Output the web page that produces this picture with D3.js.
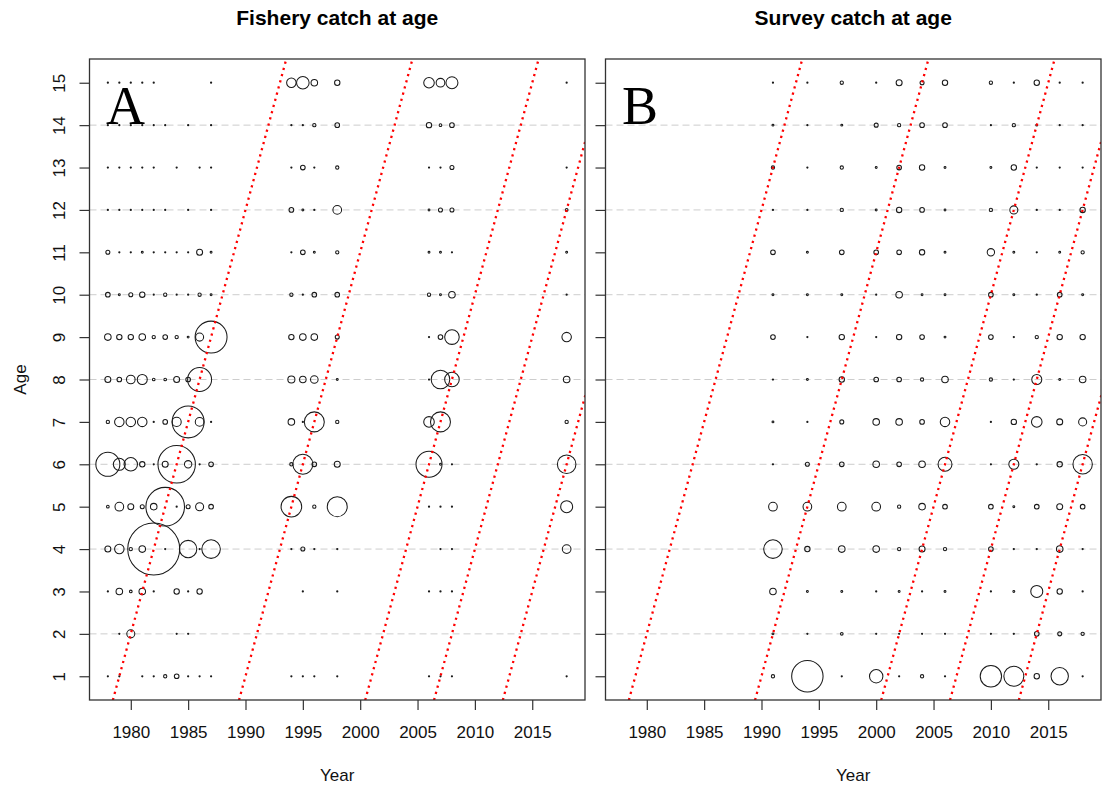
<!DOCTYPE html>
<html>
<head>
<meta charset="utf-8">
<script src="https://cdn.jsdelivr.net/npm/d3@7"></script>
<style>
  body { margin: 0; background: #fff; }
  svg { display: block; font-family: "Liberation Sans", Arial, sans-serif; }
</style>
</head>
<body>
<svg id="chart" width="1105" height="788"></svg>
<script>
// ---- data -------------------------------------------------------------
const ages = d3.range(1, 16);                       // ages 1..15
const yearTicks = [1980, 1985, 1990, 1995, 2000, 2005, 2010, 2015];
const gridAges = [2, 4, 6, 8, 10, 12, 14];
// year at which each highlighted year class sits at age 0
const cohortStarts = [1978, 1989, 2000, 2006, 2012];

// Fishery catch-at-age (% of annual catch), one row per year, ages 1..15
const fisheryYears = [1978, 1979, 1980, 1981, 1982, 1983, 1984, 1985, 1986, 1987,
                      1994, 1995, 1996, 1998, 2006, 2007, 2008, 2018];
const fisheryCatch = [
  [0.04, 0, 0.04, 1.0, 0.2, 16, 0.3, 1.0, 1.2, 0.6, 0.45, 0.04, 0.04, 0.04, 0.04],
  [0.04, 0.04, 1.2, 2.5, 2.1, 4.0, 2.5, 0.6, 0.8, 0.1, 0.04, 0.04, 0.04, 0.04, 0.04],
  [0, 1.8, 0.2, 0.3, 1.0, 5.0, 2.5, 2.1, 0.8, 0.45, 0.04, 0.04, 0.04, 0.04, 0.04],
  [0.04, 0, 1.2, 1.2, 0.45, 0.8, 2.5, 2.8, 1.2, 0.8, 0.1, 0.04, 0.04, 0.04, 0.04],
  [0.04, 0, 0.04, 75, 1.2, 0.04, 0.04, 0.2, 0.3, 0.04, 0.04, 0.04, 0.04, 0.04, 0.04],
  [0.3, 0, 0, 0.04, 41.4, 1.0, 0.6, 0.2, 0.6, 0.3, 0.04, 0.04, 0, 0.04, 0],
  [0.6, 0.04, 0.8, 0, 0.04, 38.9, 2.3, 1.0, 0.3, 0.04, 0.04, 0, 0.04, 0, 0],
  [0.04, 0.04, 0.04, 8.4, 0.45, 1.5, 28.4, 0.6, 0.1, 0.04, 0.04, 0.04, 0, 0.04, 0],
  [0.04, 0, 0.8, 0.04, 1.8, 0.04, 2.1, 16, 1.8, 0.3, 1.0, 0, 0.04, 0, 0],
  [0.04, 0, 0, 9.6, 0.6, 0.6, 0.04, 0, 28.4, 0.1, 0.1, 0.04, 0.04, 0.04, 0.04],
  [0.04, 0, 0, 0.04, 11.8, 0.3, 1.2, 1.4, 0.8, 0.3, 0.04, 0.6, 0.04, 0.04, 2.5],
  [0.04, 0, 0.04, 0.45, 0, 11.1, 0.04, 1.2, 1.2, 0.04, 0.6, 0.1, 0.6, 0.04, 4.4],
  [0.04, 0, 0, 0.04, 0.3, 0.6, 11.1, 1.6, 1.2, 0.6, 0.1, 0.04, 0.04, 0.3, 1.2],
  [0.04, 0, 0.04, 0.04, 11.1, 1.0, 0.3, 0.1, 0.45, 0.6, 0.3, 2.1, 0.3, 0.6, 0.8],
  [0.04, 0, 0.04, 0, 0.04, 18.8, 3.1, 0.04, 0.04, 0.3, 0.1, 0.1, 0.04, 0.8, 3.1],
  [0.04, 0, 0.04, 0.04, 0.04, 0.1, 11.1, 9.6, 0.6, 0.1, 0.1, 0.45, 0.04, 0.2, 2.1],
  [0.04, 0, 0.04, 0.04, 0.04, 0.04, 0, 5.9, 5.9, 1.2, 0.04, 0.45, 0.45, 0.6, 4.0],
  [0.04, 0, 0, 2.1, 4.0, 9.6, 0.3, 1.2, 2.5, 0.04, 0.1, 0.2, 0.04, 0, 0.04]
];

// Survey catch-at-age (% of annual survey catch), one row per year, ages 1..15
const surveyYears = [1991, 1994, 1997, 2000, 2002, 2004, 2006, 2010, 2012, 2014, 2016, 2018];
const surveyCatch = [
  [0.3, 0.1, 1.2, 9.6, 2.1, 0.04, 0.1, 0.04, 0.6, 0.1, 0.6, 0.04, 0.3, 0.1, 0.04],
  [27.4, 0.04, 0.1, 0.8, 2.1, 0.45, 0.04, 0.1, 0.04, 0.1, 0.1, 0.04, 0.04, 0.04, 0.04],
  [0.04, 0.2, 0.1, 1.2, 2.1, 0.6, 0.45, 0.8, 0.8, 0.1, 0.6, 0.3, 0.3, 0.1, 0.3],
  [5.0, 0.04, 0.04, 1.2, 2.1, 1.2, 1.2, 0.6, 0.04, 0.04, 0.6, 0.1, 0.1, 0.45, 0.04],
  [0.04, 0.04, 0.1, 0.3, 0.3, 0.6, 1.2, 0.6, 0.8, 1.2, 0.6, 0.8, 0.6, 0.3, 1.0],
  [0.3, 0.04, 0.04, 1.0, 1.2, 1.2, 0.6, 0.3, 0.6, 0.1, 0.8, 0.6, 0.8, 0.6, 0.45],
  [0.04, 0.04, 0.1, 0.3, 0.6, 5.4, 2.5, 1.2, 0.1, 0.1, 0.1, 0.1, 0.1, 0.6, 0.8],
  [12.7, 0.04, 0.04, 0.6, 0.6, 0.04, 0.04, 0.3, 0.6, 0.6, 1.5, 0.3, 0.1, 0.04, 0.3],
  [11.1, 0.04, 0.1, 0.04, 0.1, 2.8, 0.8, 0.04, 0.04, 0.1, 0.1, 1.8, 0.8, 0.3, 0.04],
  [0.8, 0.6, 4.0, 0.04, 0.6, 0.04, 3.1, 2.8, 0.3, 0.04, 0.04, 0.04, 0.04, 0.1, 0.8],
  [8.4, 0.45, 0.8, 1.2, 1.0, 0.8, 1.0, 0.1, 0.8, 0.6, 0.1, 0.04, 0.04, 0.04, 0.04],
  [0.04, 0.3, 0.04, 0.04, 0.6, 10.5, 1.8, 1.2, 0.8, 0.1, 0.3, 0.8, 0.04, 0.04, 0.04]
];

// ---- layout -----------------------------------------------------------
const svg = d3.select("#chart");
const plotTop = 59, plotBottom = 700;
const panels = [
  { id: "fishery", title: "Fishery catch at age", letter: "A", ageLabels: true,
    years: fisheryYears, values: fisheryCatch, left: 89.5, right: 585 },
  { id: "survey", title: "Survey catch at age", letter: "B", ageLabels: false,
    years: surveyYears, values: surveyCatch, left: 605.5, right: 1101 }
];

const y = d3.scaleLinear().domain([0.44, 15.56]).range([plotBottom, plotTop]);
const r = d3.scaleSqrt().domain([0, 100]).range([0, 30]);

panels.forEach(p => {
  const x = d3.scaleLinear().domain([1976.4, 2019.6]).range([p.left, p.right]);
  const g = svg.append("g").attr("class", p.id);
  const cx = (p.left + p.right) / 2;

  g.append("clipPath").attr("id", "clip-" + p.id)
    .append("rect")
    .attr("x", p.left).attr("y", plotTop)
    .attr("width", p.right - p.left).attr("height", plotBottom - plotTop);

  const plot = g.append("g").attr("clip-path", `url(#clip-${p.id})`);

  // dashed reference lines at even ages
  plot.selectAll("line.grid").data(gridAges).join("line")
    .attr("class", "grid")
    .attr("x1", p.left).attr("x2", p.right)
    .attr("y1", d => y(d)).attr("y2", d => y(d))
    .attr("stroke", "#cdcdcd").attr("stroke-width", 1)
    .attr("stroke-dasharray", "7,4");

  // catch-at-age bubbles
  const cells = [];
  p.years.forEach((yr, i) => {
    p.values[i].forEach((v, j) => {
      if (v > 0) cells.push({ year: yr, age: ages[j], value: v });
    });
  });
  plot.selectAll("circle.bubble").data(cells).join("circle")
    .attr("class", "bubble")
    .attr("cx", d => x(d.year))
    .attr("cy", d => y(d.age))
    .attr("r", d => r(d.value))
    .attr("fill", "none")
    .attr("stroke", "#1a1a1a")
    .attr("stroke-width", 1.05);

  // year-class diagonals
  plot.selectAll("line.cohort").data(cohortStarts).join("line")
    .attr("class", "cohort")
    .attr("x1", d => x(d)).attr("y1", y(0))
    .attr("x2", d => x(d + 16)).attr("y2", y(16))
    .attr("stroke", "#ff0000").attr("stroke-width", 2.3)
    .attr("stroke-dasharray", "2.2,4.2");

  // axes
  const xAxis = g.append("g")
    .attr("transform", `translate(0,${plotBottom})`)
    .call(d3.axisBottom(x).tickValues(yearTicks).tickFormat(d3.format("d")).tickSize(10));
  xAxis.select(".domain").remove();
  xAxis.selectAll(".tick line").attr("stroke", "#333").attr("stroke-width", 1.2);
  xAxis.selectAll(".tick text")
    .attr("y", 38).attr("dy", 0)
    .attr("fill", "#111")
    .style("font-size", "17px");

  const yAxis = g.append("g")
    .attr("transform", `translate(${p.left},0)`)
    .call(d3.axisLeft(y).tickValues(ages)
      .tickFormat(p.ageLabels ? d3.format("d") : () => "").tickSize(10));
  yAxis.select(".domain").remove();
  yAxis.selectAll(".tick line").attr("stroke", "#333").attr("stroke-width", 1.2);
  if (p.ageLabels) {
    yAxis.selectAll(".tick text")
      .attr("transform", "rotate(-90)")
      .attr("x", 0).attr("y", -24.5).attr("dy", 0)
      .attr("text-anchor", "middle")
      .attr("fill", "#111")
      .style("font-size", "17px");
  } else {
    yAxis.selectAll(".tick text").remove();
  }

  // frame
  g.append("rect")
    .attr("x", p.left).attr("y", plotTop)
    .attr("width", p.right - p.left).attr("height", plotBottom - plotTop)
    .attr("fill", "none").attr("stroke", "#333").attr("stroke-width", 1.3);

  // titles and labels
  g.append("text")
    .attr("x", cx).attr("y", 25)
    .attr("text-anchor", "middle")
    .style("font-size", "21px").style("font-weight", "bold")
    .attr("fill", "#000")
    .text(p.title);

  g.append("text")
    .attr("x", cx).attr("y", 781)
    .attr("text-anchor", "middle")
    .style("font-size", "17px")
    .attr("fill", "#111")
    .text("Year");

  if (p.ageLabels) {
    g.append("text")
      .attr("transform", `translate(${p.left - 63.5},${(plotTop + plotBottom) / 2}) rotate(-90)`)
      .attr("text-anchor", "middle")
      .style("font-size", "17px")
      .attr("fill", "#111")
      .text("Age");
  }

  g.append("text")
    .attr("x", p.left + 16.5).attr("y", 124)
    .style("font-family", "'Liberation Serif', 'Times New Roman', serif")
    .style("font-size", "54px")
    .attr("fill", "#000")
    .text(p.letter);
});
</script>
</body>
</html>
